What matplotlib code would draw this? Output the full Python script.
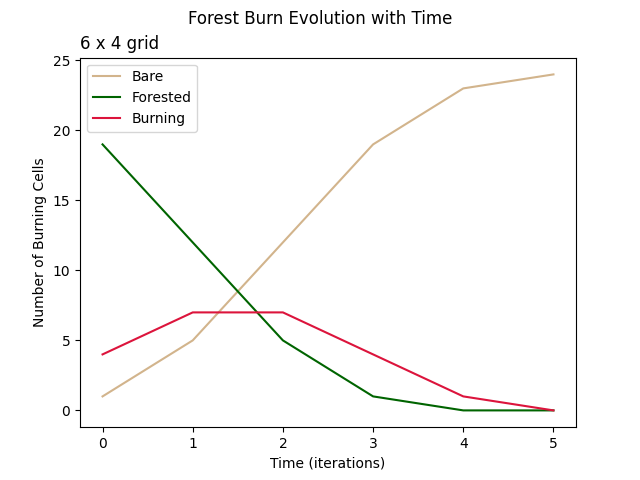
import matplotlib
matplotlib.use("Agg")
import matplotlib.pyplot as plt

# values
time_steps = [0, 1, 2, 3, 4, 5]
bare = [1, 5, 12, 19, 23, 24]
forested = [19, 12, 5, 1, 0, 0]
burning = [4, 7, 7, 4, 1, 0]

fig, ax = plt.subplots(figsize=(6.4, 4.8), dpi=100)
ax.plot(time_steps, bare, label='Bare', color='tan')
ax.plot(time_steps, forested, label='Forested', color='darkgreen')
ax.plot(time_steps, burning, label='Burning', color='crimson')

fig.suptitle("Forest Burn Evolution with Time")
ax.set_title("6 x 4 grid", loc='left')
ax.set_xlabel("Time (iterations)")
ax.set_ylabel("Number of Burning Cells")
ax.legend(loc='upper left')

fig.savefig("out.png")
